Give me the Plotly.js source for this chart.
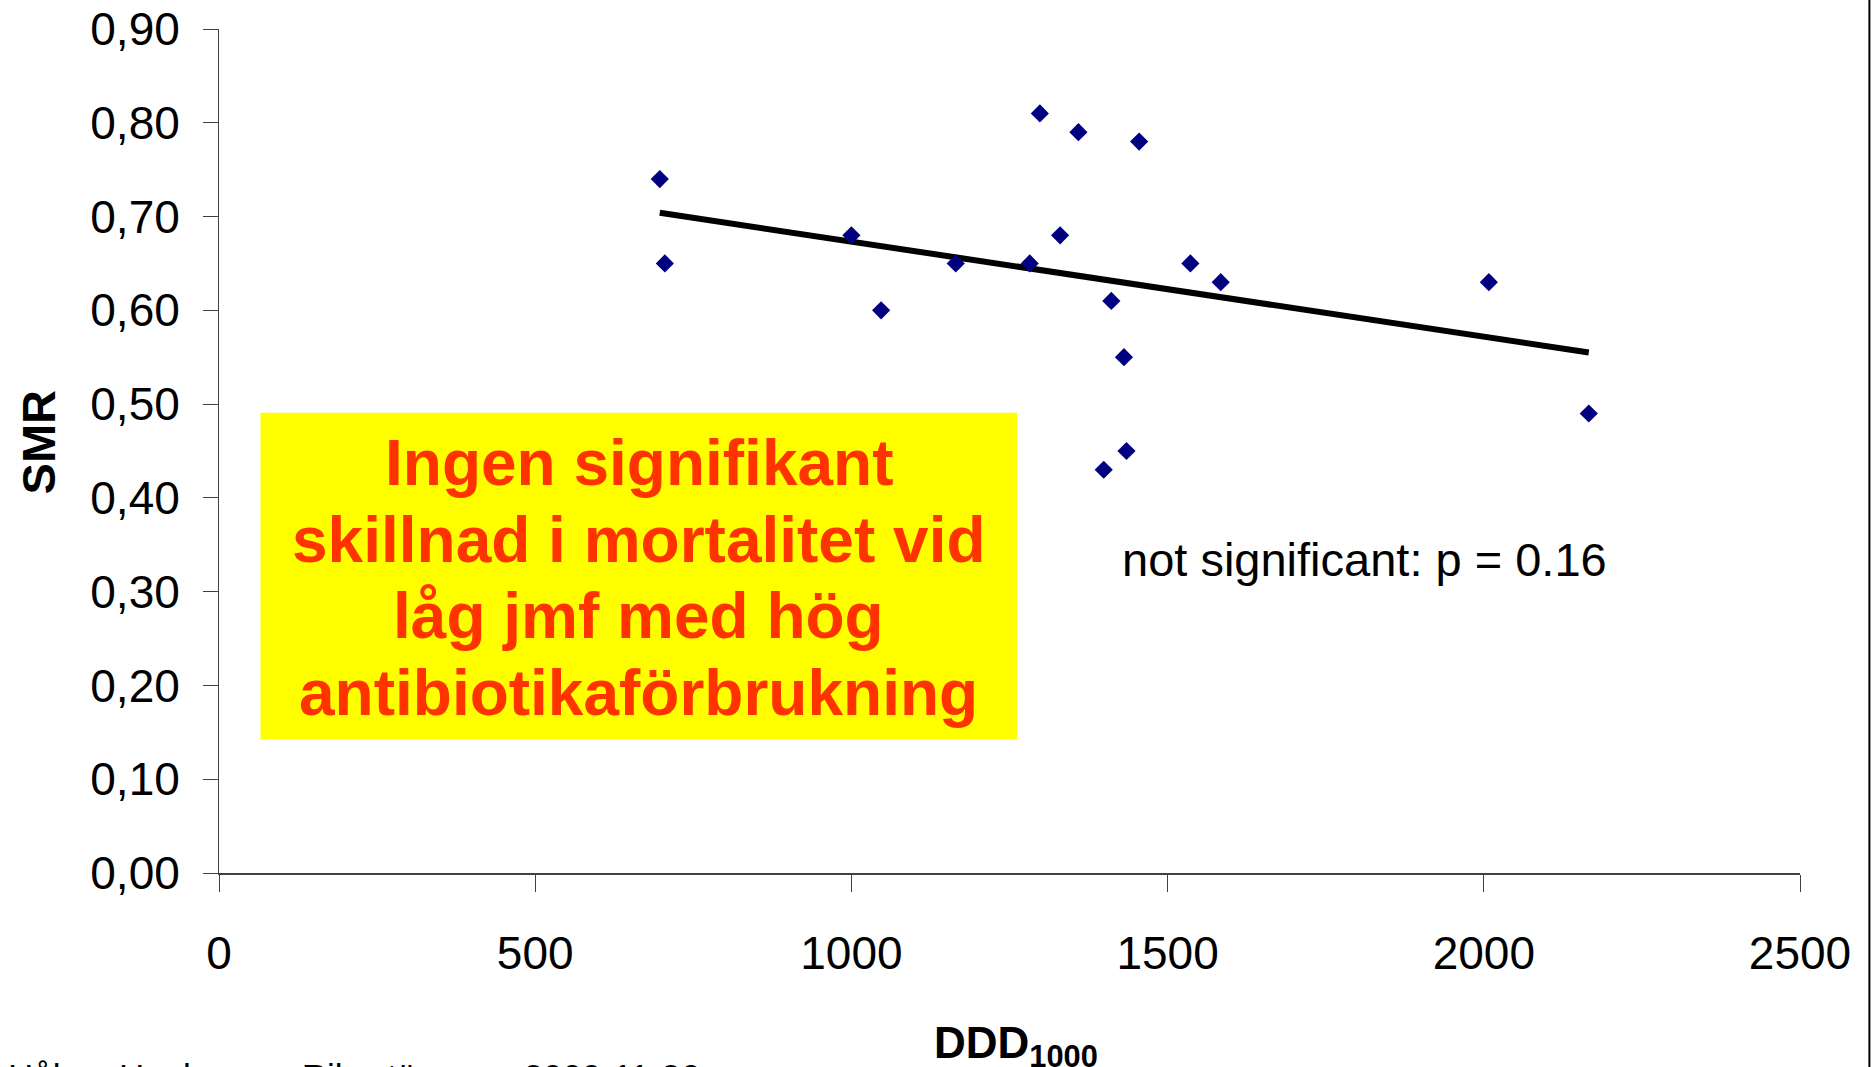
<!DOCTYPE html>
<html>
<head>
<meta charset="utf-8">
<script src="https://cdn.plot.ly/plotly-3.0.1.min.js"></script>
<style>html,body{margin:0;padding:0;background:#fff;}#chart{width:1872px;height:1067px;}</style>
</head>
<body>
<div id="chart"></div>
<script>
// Data
const ddd = [697, 705, 1000, 1047, 1165, 1282, 1298, 1330, 1359, 1455, 1411, 1431, 1435, 1399, 1536, 1584, 2008, 2166];
const smr = [0.74, 0.65, 0.68, 0.60, 0.65, 0.65, 0.81, 0.68, 0.79, 0.78, 0.61, 0.55, 0.45, 0.43, 0.65, 0.63, 0.63, 0.49];
const trendX = [697, 2166];
const trendY = [0.704, 0.555];
const xTicks = [0, 500, 1000, 1500, 2000, 2500];
const yTicks = [0, 0.1, 0.2, 0.3, 0.4, 0.5, 0.6, 0.7, 0.8, 0.9];
const boxLines = ['Ingen signifikant', 'skillnad i mortalitet vid', 'låg jmf med hög', 'antibiotikaförbrukning'];
const pText = 'not significant: p = 0.16';
const footer = 'Håkan Hanberger, Riksstämman 2009-11-26';

const SANS = '"Liberation Sans", Arial, Helvetica, sans-serif';

const traces = [
  {x: trendX, y: trendY, mode: 'lines', type: 'scatter',
   line: {color: '#000000', width: 6}, hoverinfo: 'skip', showlegend: false},
  {x: ddd, y: smr, mode: 'markers', type: 'scatter',
   marker: {symbol: 'diamond', size: 14, color: '#000080'}, showlegend: false}
];

// box line vertical positions (data units)
const boxY = [0.4374, 0.3556, 0.274, 0.1922];
const annotations = boxLines.map((t, i) => ({
  text: '<b>' + t + '</b>', x: 664, y: boxY[i], xref: 'x', yref: 'y',
  xanchor: 'center', yanchor: 'middle', showarrow: false,
  font: {family: SANS, size: 64, color: '#FF3300'}
}));
annotations.push({text: pText, x: 1811, y: 0.334, xref: 'x', yref: 'y',
  xanchor: 'center', yanchor: 'middle', showarrow: false,
  font: {family: SANS, size: 47, color: '#000'}});
annotations.push({text: '<b>SMR</b>', x: -0.1141, y: 0.5097, xref: 'paper', yref: 'paper',
  textangle: -90, xanchor: 'center', yanchor: 'middle', showarrow: false,
  font: {family: SANS, size: 47, color: '#000'}});
annotations.push({text: '<b>DDD<sub>1000</sub></b>', x: 0.504, y: -0.2054, xref: 'paper', yref: 'paper',
  xanchor: 'center', yanchor: 'middle', showarrow: false,
  font: {family: SANS, size: 44, color: '#000'}});
annotations.push({text: footer, x: -0.135, y: -0.2407, xref: 'paper', yref: 'paper',
  xanchor: 'left', yanchor: 'middle', showarrow: false,
  font: {family: SANS, size: 35, color: '#000'}});

const layout = {
  width: 1872, height: 1067,
  margin: {l: 218.5, r: 71.5, t: 29, b: 193.7, pad: 0},
  paper_bgcolor: '#ffffff', plot_bgcolor: '#ffffff',
  separators: ', ',
  showlegend: false,
  font: {family: SANS, size: 46, color: '#000'},
  xaxis: {range: [0, 2500], tickvals: xTicks, ticks: 'outside', ticklen: 17, tickcolor: '#404040', tickwidth: 1,
    showline: true, linecolor: '#404040', linewidth: 2, showgrid: false, zeroline: false,
    tickfont: {family: SANS, size: 46, color: '#000'}, ticklabelstandoff: 22, fixedrange: true},
  yaxis: {range: [0, 0.9], tickvals: yTicks, tickformat: '.2f', ticks: 'outside', ticklen: 15, tickcolor: '#404040', tickwidth: 1,
    showline: true, linecolor: '#404040', linewidth: 1, showgrid: false, zeroline: false,
    tickfont: {family: SANS, size: 46, color: '#000'}, ticklabelstandoff: 14, fixedrange: true},
  shapes: [
    {type: 'rect', xref: 'x', yref: 'y', x0: 65.6, x1: 1261.9, y0: 0.1424, y1: 0.4907,
     fillcolor: '#FFFF00', line: {width: 0}, layer: 'below'},
    {type: 'line', xref: 'paper', yref: 'paper', x0: 1.0439, x1: 1.0439, y0: -0.3, y1: 1.1,
     line: {color: '#000', width: 2}}
  ],
  annotations: annotations
};

Plotly.newPlot('chart', traces, layout, {staticPlot: true, displayModeBar: false});
</script>
</body>
</html>
